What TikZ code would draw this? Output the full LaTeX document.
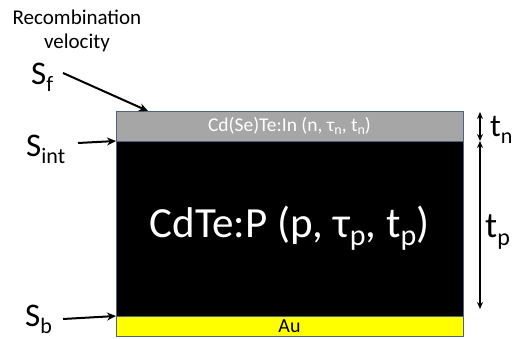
\documentclass[tikz,border=0pt]{standalone}
\usepackage{fontspec}
\setmainfont{Carlito}
\usetikzlibrary{arrows.meta}
\definecolor{edgec}{RGB}{80,100,130}
\definecolor{layergray}{RGB}{166,166,166}
\definecolor{auyellow}{RGB}{255,255,0}
\newcommand{\fs}[1]{\fontsize{#1}{#1}\selectfont}
\newcommand{\Ssub}[1]{{\fs{33}S}\raisebox{-7pt}{\fs{22}#1}}
\begin{document}
\begin{tikzpicture}[x=1pt,y=-1pt,
  layer/.style={draw=edgec, line width=0.6pt, minimum width=347pt, inner sep=0pt, outer sep=0pt},
  sarr/.style={-{Stealth[length=9pt,width=8pt]}, line width=2pt},
  tarr/.style={{Stealth[length=7pt,width=6pt]}-{Stealth[length=7pt,width=6pt]}, line width=1.4pt},
  lbl/.style={inner sep=0pt}]
\useasboundingbox (0,0) rectangle (512,339);
\node[layer, fill=layergray, minimum height=30pt, text=white] (n) at (289.5,126) {\fs{19.5}Cd(Se)Te:In (n, τ\raisebox{-3pt}{\fs{14}n}, t\raisebox{-3pt}{\fs{14}n})};
\node[layer, fill=black, minimum height=175pt, text=white] (p) at (289.5,228.5) {\fs{43}CdTe:P (p, τ\raisebox{-8pt}{\fs{30}p}, t\raisebox{-8pt}{\fs{30}p})};
\node[layer, fill=auyellow, minimum height=20pt] (au) at (289.5,326) {\fs{20}Au};
\node[lbl, align=center, font=\fontsize{21}{24}\selectfont] (rv) at (77,31) {Recombination\\velocity};
\node[lbl, anchor=base west] (sf) at (31,85) {\Ssub{f}};
\node[lbl, anchor=base west] (si) at (26,157) {\Ssub{int}};
\node[lbl, anchor=base west] (sb) at (25,327) {\Ssub{b}};
\coordinate (sfstart) at (63,73);
\coordinate (sfend) at (148,111);
\coordinate (sistart) at (78,143);
\coordinate (sbstart) at (63,319);
\draw[sarr] (sfstart) -- (sfend);
\draw[sarr] (sistart) -- (n.south west);
\draw[sarr] (sbstart) -- (au.north west);
\coordinate (tn1) at (480,112);
\coordinate (tn2) at (480,141);
\coordinate (tp2) at (480,309);
\draw[tarr] (tn1) -- (tn2);
\draw[tarr] (tn2) -- (tp2);
\node[lbl, anchor=base west] (tnl) at (490,137) {\fs{32}t\raisebox{-7pt}{\fs{22}n}};
\node[lbl, anchor=base west] (tpl) at (485,238) {\fs{36}t\raisebox{-8pt}{\fs{24}p}};
\end{tikzpicture}
\end{document}
